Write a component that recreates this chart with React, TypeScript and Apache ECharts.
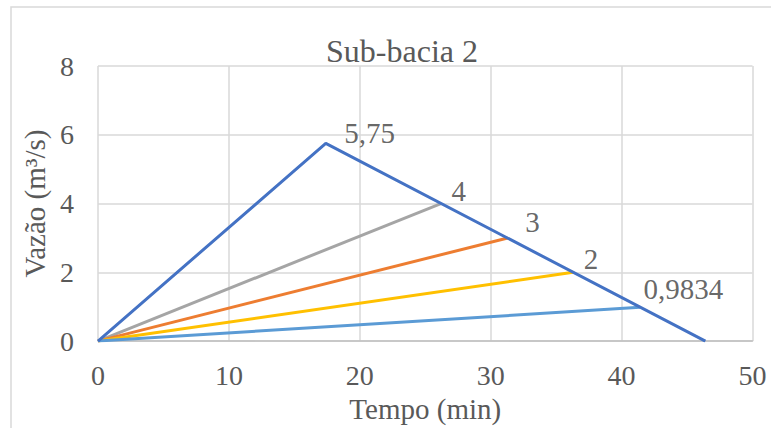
import React, { useEffect, useRef } from "react";
import * as echarts from "echarts";

const titleText = "Sub-bacia 2";
const xName = "Tempo (min)";
const yName = "Vazão (m³/s)";

// Main triangular hydrograph
const hydroT = [0, 17.4, 46.4];
const hydroQ = [0, 5.75, 0];

// Rays from origin to points on the recession limb
const rayNames = ["Q4", "Q3", "Q2", "Q1"];
const rayEndT = [26.2, 31.3, 36.3, 41.4];
const rayEndQ = [4, 3, 2, 0.9834];
const rayColors = ["#A5A5A5", "#ED7D31", "#FFC000", "#5B9BD5"];

// Data labels
const labelT = [17.4, 26.2, 31.3, 36.3, 41.4];
const labelQ = [5.75, 4, 3, 2, 0.9834];
const labelText = ["5,75", "4", "3", "2", "0,9834"];
const labelOffsets = [
  [18, -10],
  [10, -13],
  [17, -16],
  [10, -13],
  [3, -18],
];

const FONT = "Liberation Serif";

export default function App() {
  const ref = useRef<HTMLDivElement>(null);
  useEffect(() => {
    if (!ref.current) return;
    const chart = echarts.init(ref.current, undefined, { renderer: "svg" });
    const series: any[] = [];
    rayNames.forEach((n, i) => {
      series.push({
        name: n,
        type: "line",
        data: [
          [0, 0],
          [rayEndT[i], rayEndQ[i]],
        ],
        showSymbol: false,
        symbol: "none",
        lineStyle: { color: rayColors[i], width: 3 },
        z: 2 + i,
      });
    });
    series.unshift({
      name: "Hidrograma",
      type: "line",
      data: hydroT.map((t, i) => [t, hydroQ[i]]),
      showSymbol: false,
      symbol: "none",
      lineStyle: { color: "#4472C4", width: 3 },
      z: 10,
    });
    series.push({
      name: "labels",
      type: "scatter",
      symbolSize: 1,
      itemStyle: { color: "rgba(0,0,0,0)" },
      data: labelT.map((t, i) => ({
        value: [t, labelQ[i]],
        label: {
          show: true,
          formatter: labelText[i],
          position: "right",
          distance: 0,
          offset: labelOffsets[i],
          align: "left",
          verticalAlign: "middle",
          fontFamily: FONT,
          fontSize: 29,
          color: "#404040",
        },
      })),
      z: 20,
    });

    chart.setOption({
      animation: false,
      textStyle: { fontFamily: FONT },
      title: {
        text: titleText,
        left: 397,
        top: 30,
        textAlign: "center",
        textStyle: {
          fontFamily: FONT,
          fontSize: 32,
          fontWeight: "normal",
          color: "#595959",
        },
      },
      graphic: [
        {
          type: "rect",
          shape: { x: 11, y: 7, width: 780, height: 440 },
          style: { fill: "none", stroke: "#D9D9D9", lineWidth: 1.5 },
          silent: true,
        },
      ],
      grid: { left: 98, right: 18.5, top: 66, bottom: 80, containLabel: false },
      xAxis: {
        type: "value",
        min: 0,
        max: 50,
        interval: 10,
        name: xName,
        nameLocation: "middle",
        nameGap: 48,
        nameTextStyle: { fontFamily: FONT, fontSize: 29, color: "#595959" },
        axisLine: { show: true, lineStyle: { color: "#BFBFBF", width: 1.5 } },
        axisTick: { show: false },
        axisLabel: { fontFamily: FONT, fontSize: 28, color: "#595959", margin: 20 },
        splitLine: { show: true, lineStyle: { color: "#D9D9D9", width: 1.5 } },
      },
      yAxis: {
        type: "value",
        min: 0,
        max: 8,
        interval: 2,
        name: yName,
        nameLocation: "middle",
        nameGap: 48,
        nameTextStyle: { fontFamily: FONT, fontSize: 29, color: "#595959" },
        axisLine: { show: false },
        axisTick: { show: false },
        axisLabel: { fontFamily: FONT, fontSize: 28, color: "#595959", margin: 24 },
        splitLine: { show: true, lineStyle: { color: "#D9D9D9", width: 1.5 } },
      },
      series,
    });
    return () => chart.dispose();
  }, []);
  return (
    <div
      ref={ref}
      style={{ position: "fixed", left: 0, top: 0, width: 771, height: 428, background: "#fff" }}
    />
  );
}
